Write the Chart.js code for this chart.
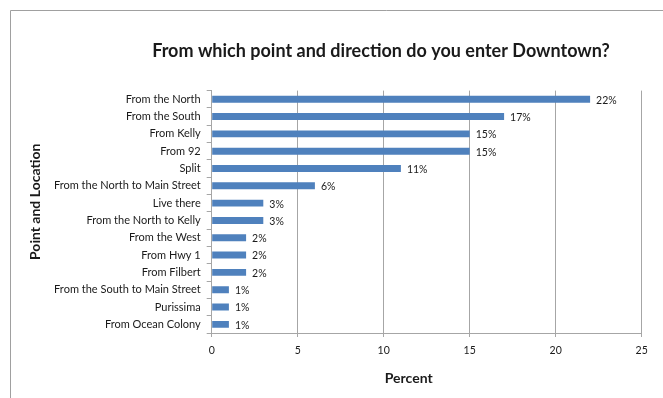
<!DOCTYPE html>
<html>
<head>
<meta charset="utf-8">
<script src="https://cdn.jsdelivr.net/npm/chart.js@4/dist/chart.umd.min.js"></script>
<style>
  html, body { margin: 0; padding: 0; background: #fff; overflow: hidden; }
  canvas { display: block; }
</style>
</head>
<body>
<canvas id="c" width="762" height="398"></canvas>
<script>
// Survey answers and their share of respondents (percent)
const categories = [
  'From the North', 'From the South', 'From Kelly', 'From 92', 'Split',
  'From the North to Main Street', 'Live there', 'From the North to Kelly',
  'From the West', 'From Hwy 1', 'From Filbert', 'From the South to Main Street',
  'Purissima', 'From Ocean Colony'
];
const percents = [22, 17, 15, 15, 11, 6, 3, 3, 2, 2, 2, 1, 1, 1];
const xTicks = [0, 5, 10, 15, 20, 25];

const chartTitle = 'From which point and direction do you enter Downtown?';
const yTitle = 'Point and Location';
const xTitle = 'Percent';

const FONT = "Lato, 'Liberation Sans', sans-serif";
const GRID = '#a6a6a6';
const TEXT = '#1a1a1a';

// Thin frame along the top and left edges of the chart object
const framePlugin = {
  id: 'frame',
  beforeDraw(chart) {
    const ctx = chart.ctx;
    ctx.save();
    ctx.fillStyle = '#fff';
    ctx.fillRect(0, 0, chart.width, chart.height);
    ctx.strokeStyle = '#a0a0a0';
    ctx.lineWidth = 1;
    ctx.beginPath();
    ctx.moveTo(10.5, chart.height);
    ctx.lineTo(10.5, 10.5);
    ctx.lineTo(chart.width, 10.5);
    ctx.stroke();
    ctx.restore();
  }
};

// Percentage label just past the end of each bar
const valueLabels = {
  id: 'valueLabels',
  afterDatasetsDraw(chart) {
    const ctx = chart.ctx;
    const meta = chart.getDatasetMeta(0);
    const data = chart.data.datasets[0].data;
    ctx.save();
    ctx.font = '10.5px ' + FONT;
    ctx.fillStyle = TEXT;
    ctx.textAlign = 'left';
    ctx.textBaseline = 'middle';
    meta.data.forEach((bar, i) => {
      ctx.fillText(data[i] + '%', bar.x + 6, bar.y + 1);
    });
    ctx.restore();
  }
};

// Axis titles, placed a little toward the middle of the whole chart object
const axisTitles = {
  id: 'axisTitles',
  afterDraw(chart) {
    const ctx = chart.ctx;
    const area = chart.chartArea;
    const xs = chart.scales.x;
    const ys = chart.scales.y;
    ctx.save();
    ctx.font = 'bold 14px ' + FONT;
    ctx.fillStyle = TEXT;
    ctx.textAlign = 'center';
    ctx.textBaseline = 'middle';
    ctx.fillText(xTitle, (area.left + area.right) / 2 - 18, xs.bottom - 20);
    ctx.translate(ys.left + 25, (area.top + area.bottom) / 2 - 10);
    ctx.rotate(-Math.PI / 2);
    ctx.fillText(yTitle, 0, 0);
    ctx.restore();
  }
};

new Chart(document.getElementById('c'), {
  type: 'bar',
  data: {
    labels: categories,
    datasets: [{
      data: percents,
      yAxisID: 'y',
      backgroundColor: '#4f81bd',
      borderWidth: 0,
      categoryPercentage: 1,
      barPercentage: 0.4
    }]
  },
  plugins: [framePlugin, valueLabels, axisTitles],
  options: {
    indexAxis: 'y',
    responsive: false,
    animation: false,
    devicePixelRatio: 1,
    layout: { padding: { left: 10, right: 10, top: 10, bottom: 0 } },
    plugins: {
      legend: { display: false },
      tooltip: { enabled: false },
      title: {
        display: true,
        text: chartTitle,
        color: TEXT,
        font: { family: FONT, size: 18, weight: 'bold' },
        padding: { top: 30, bottom: 29 }
      }
    },
    scales: {
      x: {
        type: 'linear',
        min: 0,
        max: 25,
        afterBuildTicks(scale) { scale.ticks = xTicks.map(v => ({ value: v })); },
        afterFit(scale) { scale.height = 65; },
        grid: { color: GRID, tickLength: 4, tickColor: GRID },
        border: { color: GRID },
        ticks: { color: TEXT, font: { family: FONT, size: 10.5 }, padding: 7 }
      },
      y: {
        afterFit(scale) { scale.width = 201.7; },
        grid: { offset: true, drawOnChartArea: false, tickLength: 5, color: GRID },
        border: { color: GRID },
        ticks: { color: TEXT, font: { family: FONT, size: 11 }, padding: 6, autoSkip: false }
      },
      // empty margin on the right of the plot, inside the chart object
      spacer: {
        type: 'category',
        position: 'right',
        grid: { display: false },
        border: { display: false },
        ticks: { display: false },
        afterFit(scale) { scale.width = 110.3; }
      }
    }
  }
});
</script>
</body>
</html>
